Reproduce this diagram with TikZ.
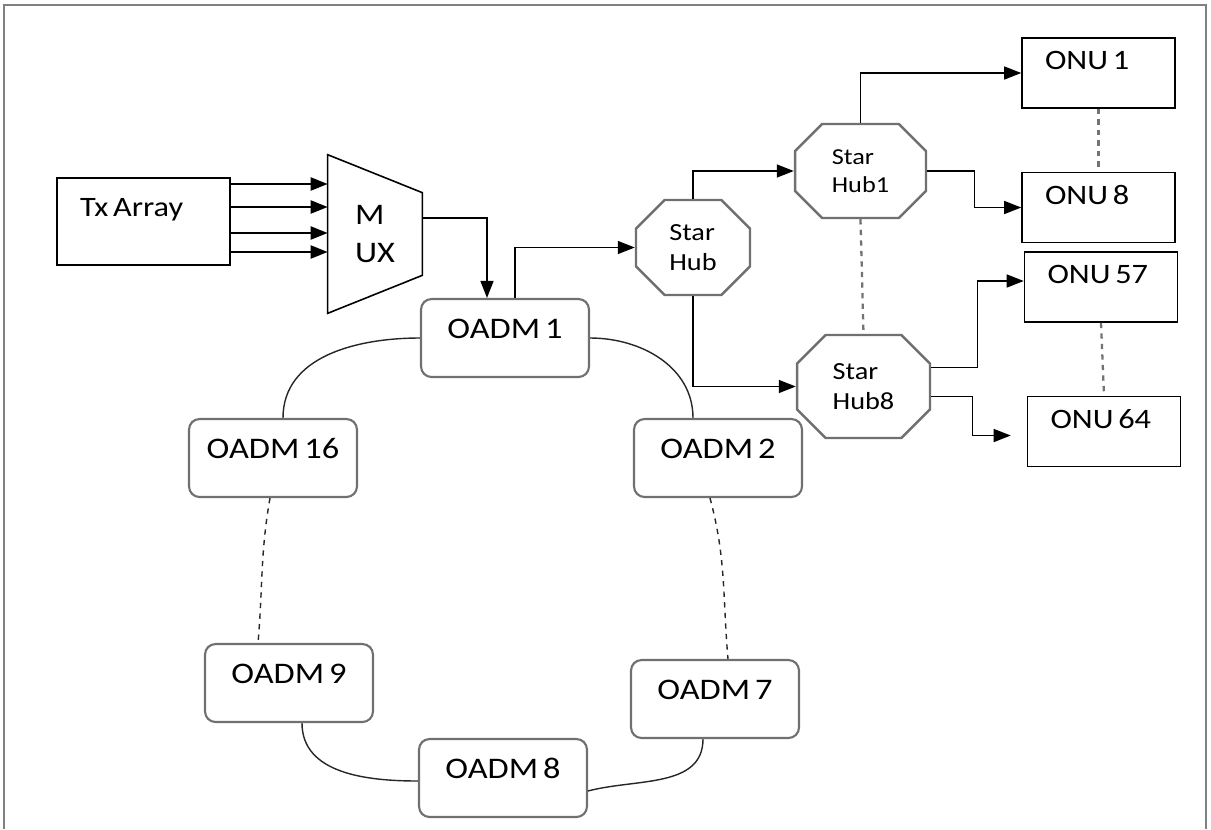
\documentclass[tikz,border=0pt]{standalone}
\usepackage{fontspec}
\setmainfont{Carlito}[FakeStretch=1.15, WordSpace=0.65]
\usepackage{tikz}
\usetikzlibrary{shapes.misc, arrows.meta, positioning, calc}
\definecolor{framegray}{HTML}{808080}
\definecolor{boxgray}{HTML}{707070}

\begin{document}
\begin{tikzpicture}[
    x=0.02cm, y=-0.02cm,
    oadm/.style={draw=boxgray, line width=1.2pt, rounded corners=6pt, minimum width=3.36cm, minimum height=1.56cm, text height=0.4cm, text depth=0.4cm, font=\fontsize{17}{20}\selectfont},
    onu/.style={draw, line width=0.9pt, align=flush left, inner xsep=0.46cm, text width=2.14cm, minimum height=1.4cm, text height=0.4cm, text depth=0.54cm, font=\fontsize{16}{19}\selectfont},
    hub/.style={chamfered rectangle, chamfered rectangle xsep=0.46cm, draw=boxgray, line width=1.4pt, align=left, inner sep=0pt},
    arrow/.style={-{Triangle[length=3.4mm, width=2.6mm]}, line width=0.8pt},
    ring/.style={line width=0.8pt, draw=black!85},
    gap/.style={dashed, draw=black!55, line width=1.3pt},
]
\useasboundingbox (0,0) rectangle (1211,829);

% outer frame
\draw[framegray, line width=0.8pt] (4,829) -- (4,5) -- (1206,5) -- (1206,829);

% transmitter side
\node[onu, text width=2.54cm, minimum height=1.74cm, text depth=0.62cm] (tx) at (143.5,221.5) {Tx Array};
\node[minimum width=1.88cm, minimum height=3.16cm, inner sep=0pt, align=left, font=\fontsize{17}{22}\selectfont] (mux) at (375,234) {M\\UX};
\draw[line width=0.9pt] (mux.north west) -- ($(mux.north east)+(0,38)$) -- ($(mux.south east)+(0,-38)$) -- (mux.south west) -- cycle;

\foreach \dy in {-37.5,-14.5,11.5,30.5}
  \draw[arrow, line width=1.3pt] (tx.east) ++(0,\dy) coordinate (s) -- (s -| mux.west);

% ring of OADMs
\node[oadm] (o1) at (505,338) {OADM 1};
\node[oadm] (o2) at (718,458) {OADM 2};
\node[oadm] (o16) at (273,458) {OADM 16};
\node[oadm] (o9) at (289,683) {OADM 9};
\node[oadm] (o7) at (715,699) {OADM 7};
\node[oadm] (o8) at (503,778) {OADM 8};

\draw[arrow] ($(mux.east)+(0,-16)$) -| ($(o1.north)+(-18,0)$);

\draw[ring] (o1.west) to[out=180, in=90] ($(o16.north)+(10,0)$);
\draw[ring] (o1.east) to[out=0, in=90] ($(o2.north)+(-25,0)$);
\draw[ring, dashed] ($(o16.south)+(-3,0)$) to[out=-100, in=85] ($(o9.north)+(-31,0)$);
\draw[ring, dashed] ($(o2.south)+(-8,0)$) to[out=-75, in=95] ($(o7.north)+(13,0)$);
\draw[ring] ($(o9.south)+(13,0)$) to[out=-90, in=180] ($(o8.west)+(0,3)$);
\draw[ring] ($(o8.east)+(0,13)$) to[out=15, in=-90] ($(o7.south)+(-12,0)$);

% star hubs
\node[hub, minimum width=2.28cm, minimum height=1.9cm, font=\fontsize{14}{17}\selectfont] (hub) at (693,247.5) {Star\\Hub};
\node[hub, minimum width=2.62cm, minimum height=1.88cm, font=\fontsize{13}{16}\selectfont] (h1) at (860.5,171) {Star\\Hub1};
\node[hub, minimum width=2.66cm, minimum height=2.06cm, font=\fontsize{14}{17}\selectfont] (h8) at (863.5,386.5) {Star\\Hub8};

% ONUs
\node[onu] (onu1) at (1098.5,73) {ONU 1};
\node[onu] (onu8) at (1098.5,207.5) {ONU 8};
\node[onu] (onu57) at (1101,287) {ONU 57};
\node[onu] (onu64) at (1104,431.5) {ONU 64};

% links
\draw[arrow] ($(o1.north)+(10,0)$) |- (hub.west);
\draw[arrow] (hub.north) |- (h1.west);
\draw[arrow] (hub.south) |- (h8.west);
\draw[arrow] (h1.north) |- (onu1.west);
\draw[arrow] (h1.east) -- ++(47,0) |- (onu8.west);
\draw[arrow] ($(h8.east)+(0,-19)$) -- ++(46,0) |- ($(onu57.west)+(0,-6)$);
\coordinate (end64) at ($(onu64.west)+(-16,4)$);
\draw[arrow] ($(h8.east)+(0,10)$) -- ++(41,0) |- (end64);

\draw[gap] (h1.south) -- (h8.north);
\draw[gap] (onu1.south) -- (onu8.north);
\draw[gap] (onu57.south) -- (onu64.north);

\end{tikzpicture}
\end{document}
